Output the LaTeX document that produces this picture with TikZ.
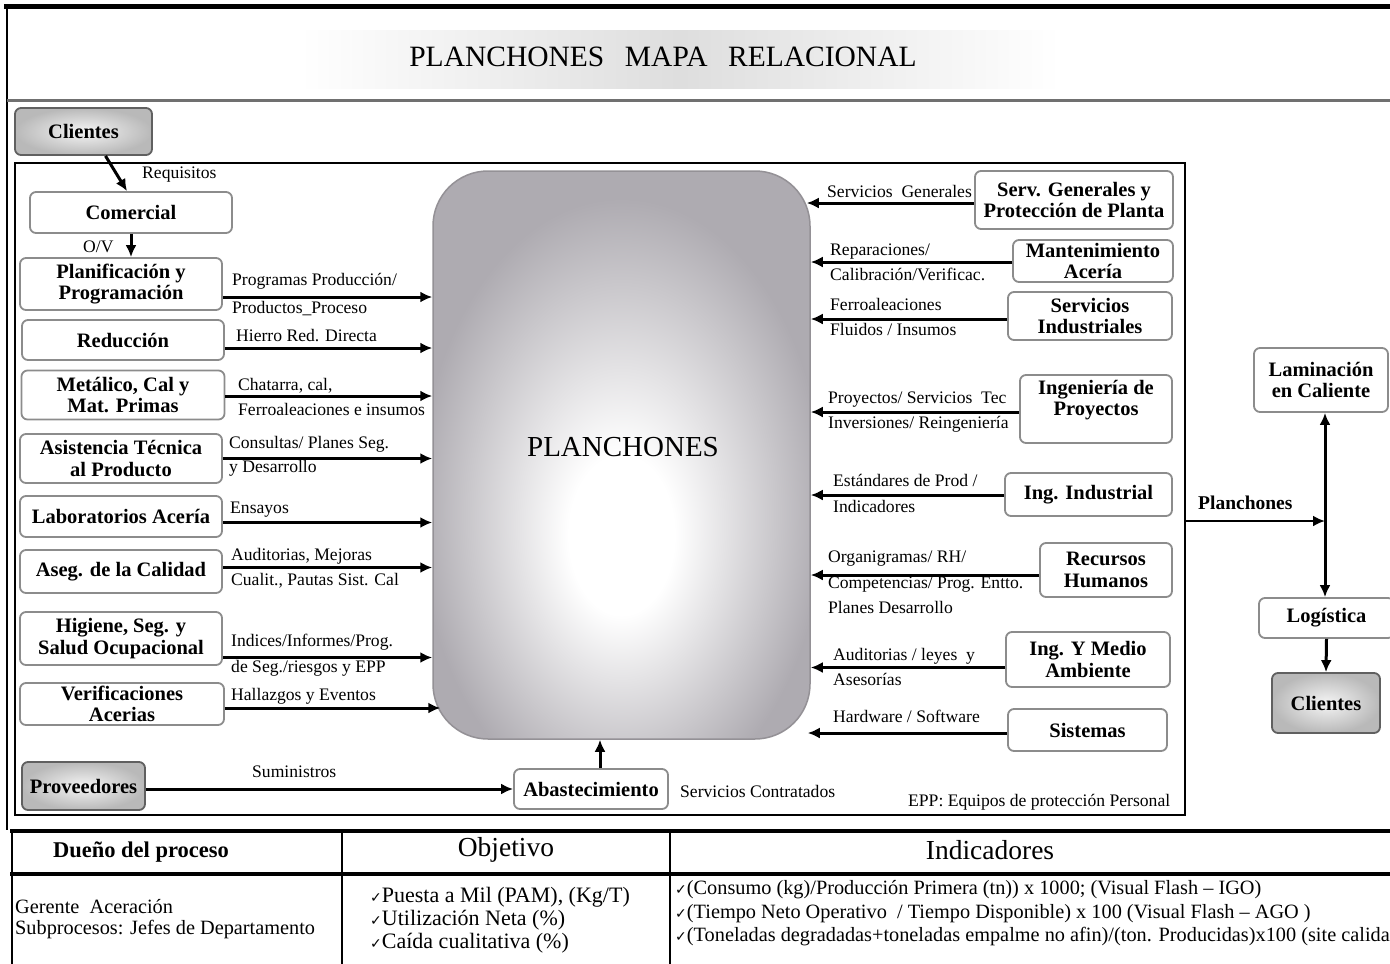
\documentclass[tikz,border=0pt]{standalone}
\usepackage{fontspec}
\setmainfont{Liberation Serif}
\newfontfamily\symfont{DejaVu Sans}
\usetikzlibrary{arrows.meta,calc}

\definecolor{boxgrey}{HTML}{8C8C8C}
\definecolor{plgrey}{HTML}{AEABB1}
\definecolor{rulegrey}{HTML}{707070}

% off-centre radial fill of the central process block
\pgfdeclareradialshading{plshade}{\pgfpoint{0bp}{-8bp}}{color(0bp)=(white); color(7bp)=(white); color(27bp)=(plgrey); color(60bp)=(plgrey)}

\newcommand{\okmark}{{\symfont\fontsize{14}{14}\selectfont ✓}}

\tikzset{
  procbox/.style={draw=boxgrey, line width=1.8pt, rounded corners=6pt, fill=white,
    inner sep=0pt, align=center, font=\bfseries\fontsize{20.5}{21.5}\selectfont},
  endbox/.style={procbox, draw=gray!75!black, shade, inner color=gray!8, outer color=gray!55},
  boxtext/.style={inner sep=0pt, align=center, font=\bfseries\fontsize{20.5}{21.5}\selectfont},
  lbl/.style={inner sep=0pt, anchor=west, font=\fontsize{17.6}{19}\selectfont},
  arr/.style={-{Latex[length=12pt,width=11pt]}, line width=3pt},
  darr/.style={{Latex[length=12pt,width=11pt]}-{Latex[length=12pt,width=11pt]}, line width=3pt},
  hdr/.style={inner sep=0pt, font=\fontsize{27.5}{29}\selectfont},
  cell/.style={inner sep=0pt, anchor=west, font=\fontsize{20.3}{22}\selectfont},
}

\begin{document}
\begin{tikzpicture}[x=1pt,y=-1pt]
\clip (0,0) rectangle (1390,964);
\fill[white] (0,0) rectangle (1390,964);

% ---------- header band ----------
\shade[left color=white, right color=white, middle color=gray!26] (300,30) rectangle (1060,88);
\draw[line width=5pt] (4,6) -- (1390,6);
\draw[line width=1.5pt] (7,4) -- (7,830);
\draw[rulegrey, line width=3pt] (7,100) -- (1390,100);
\node[inner sep=0pt, font=\fontsize{29.5}{31}\selectfont] (title) at (663,57)
  {PLANCHONES\hspace{0.7em}MAPA\hspace{0.7em}RELACIONAL};

% ---------- inner frame ----------
\draw[line width=1.6pt] (15,163) rectangle (1185,815);

% ---------- central block ----------
\node[shading=plshade, shade, draw=plgrey!85!black, line width=1.5pt, rounded corners=55pt,
      minimum width=377pt, minimum height=568pt, inner sep=0pt] (pl) at (621.5,455) {};
\node[inner sep=0pt, font=\fontsize{29}{31}\selectfont] (plt) at (623,447) {PLANCHONES};

% ---------- left column ----------
\node[endbox, minimum width=137pt, minimum height=47pt] (cli1) at (83.5,131.5) {Clientes};
\node[procbox, minimum width=202pt, minimum height=41pt] (com) at (131,212.5) {Comercial};
\node[procbox, minimum width=202pt, minimum height=52pt] (plan) at (121,284) {Planificación y\\Programación};
\node[procbox, minimum width=202pt, minimum height=40pt] (red) at (123,340) {Reducción};
\node[procbox, minimum width=203pt, minimum height=49pt] (met) at (123,395) {Metálico, Cal y\\Mat. Primas};
\node[procbox, minimum width=202pt, minimum height=49pt] (asis) at (121,458.5) {Asistencia Técnica\\al Producto};
\node[procbox, minimum width=202pt, minimum height=41pt] (lab) at (121,516.5) {Laboratorios Acería};
\node[procbox, minimum width=202pt, minimum height=43pt] (aseg) at (121,571.5) {Aseg. de la Calidad};
\node[procbox, minimum width=202pt, minimum height=53pt] (hig) at (121,638.5) {Higiene, Seg. y\\Salud Ocupacional};
\node[procbox, minimum width=204pt, minimum height=42pt] (ver) at (122,704) {Verificaciones\\Acerias};
\node[endbox, minimum width=123pt, minimum height=48pt] (prov) at (83.5,786) {Proveedores};
\node[procbox, minimum width=154pt, minimum height=40pt] (abs) at (591,789) {Abastecimiento};

% ---------- right column ----------
\node[procbox, minimum width=198pt, minimum height=58pt] (sg) at (1074,200) {Serv. Generales y\\Protección de Planta};
\node[procbox, minimum width=160pt, minimum height=42pt] (mant) at (1093,261) {Mantenimiento\\Acería};
\node[procbox, minimum width=164pt, minimum height=48pt] (si) at (1090,316) {Servicios\\Industriales};
\node[procbox, minimum width=152pt, minimum height=68pt] (ip) at (1096,409) {};
\node[boxtext] (ipt) at (1096,400) {Ingeniería de\\Proyectos};
\node[procbox, minimum width=167pt, minimum height=43pt] (ii) at (1088.5,494.5) {Ing. Industrial};
\node[procbox, minimum width=132pt, minimum height=54pt] (rh) at (1106,570) {Recursos\\Humanos};
\node[procbox, minimum width=164pt, minimum height=55pt] (ima) at (1088,659.5) {Ing. Y Medio\\Ambiente};
\node[procbox, minimum width=159pt, minimum height=42pt] (sis) at (1087.5,730) {Sistemas};

% ---------- downstream ----------
\node[procbox, minimum width=134pt, minimum height=64pt] (lam) at (1321,380) {Laminación\\en Caliente};
\node[procbox, minimum width=135pt, minimum height=40pt] (log) at (1326.5,618) {Logística};
\node[endbox, minimum width=108pt, minimum height=60pt] (cli2) at (1326,703) {Clientes};
\coordinate (fr) at (1185,521);
\coordinate (jn) at (1325,521);

% ---------- connectors ----------
\draw[arr] ([xshift=22pt]cli1.south) -- ([xshift=-4pt]com.north);
\draw[arr] (com.south) -- (com.south |- plan.north);

\draw[arr] ([yshift=-13pt]plan.east) -- ([yshift=-13pt]plan.east -| pl.west);
\draw[arr] ([yshift=-8pt]red.east) -- ([yshift=-8pt]red.east -| pl.west);
\draw[arr] ([yshift=-1pt]met.east) -- ([yshift=-1pt]met.east -| pl.west);
\draw[arr] (asis.east) -- (asis.east -| pl.west);
\draw[arr] ([yshift=-6pt]lab.east) -- ([yshift=-6pt]lab.east -| pl.west);
\draw[arr] ([yshift=4pt]aseg.east) -- ([yshift=4pt]aseg.east -| pl.west);
\draw[arr] ([yshift=-19pt]hig.east) -- ([yshift=-19pt]hig.east -| pl.west);
\draw[arr] ([yshift=-4pt]ver.east) -- ([xshift=8pt,yshift=-4pt]ver.east -| pl.west);
\draw[arr] ([yshift=-3pt]prov.east) -- ([yshift=-3pt]prov.east -| abs.west);
\draw[arr] ([xshift=9pt]abs.north) -- ([xshift=9pt]abs.north |- pl.south);

\draw[arr] ([yshift=-3pt]sg.west) -- ([xshift=-4pt,yshift=-3pt]sg.west -| pl.east);
\draw[arr] ([yshift=-1pt]mant.west) -- ([yshift=-1pt]mant.west -| pl.east);
\draw[arr] ([yshift=-3pt]si.west) -- ([yshift=-3pt]si.west -| pl.east);
\draw[arr] ([yshift=-3pt]ip.west) -- ([yshift=-3pt]ip.west -| pl.east);
\draw[arr] ([yshift=-0.5pt]ii.west) -- ([yshift=-0.5pt]ii.west -| pl.east);
\draw[arr] ([yshift=-5pt]rh.west) -- ([yshift=-5pt]rh.west -| pl.east);
\draw[arr] ([yshift=-8pt]ima.west) -- ([yshift=-8pt]ima.west -| pl.east);
\draw[arr] ([yshift=-3pt]sis.west) -- ([xshift=-3pt,yshift=-3pt]sis.west -| pl.east);

\draw[arr, line width=2.5pt] (fr) -- (jn);
\draw[darr] (jn |- lam.south) -- (jn |- log.north);
\draw[arr] (log.south) -- (cli2.north);

% ---------- flow labels ----------
\node[lbl] (lreq) at (142,175) {Requisitos};
\node[lbl] (lov) at (83,247) {O/V};
\node[lbl] (lpl1) at (232,281) {Programas Producción/};
\node[lbl] (lpl2) at (232,309) {Productos\_Proceso};
\node[lbl] (lre1) at (236,336) {Hierro Red. Directa};
\node[lbl] (lme1) at (238,386) {Chatarra, cal,};
\node[lbl] (lme2) at (238,409) {Ferroaleaciones e insumos};
\node[lbl] (las1) at (229,444) {Consultas/ Planes Seg.};
\node[lbl] (las2) at (229,468) {y Desarrollo};
\node[lbl] (lla1) at (230,510) {Ensayos};
\node[lbl] (lag1) at (231,556) {Auditorias, Mejoras};
\node[lbl] (lag2) at (231,581) {Cualit., Pautas Sist. Cal};
\node[lbl] (lhi1) at (231,642) {Indices/Informes/Prog.};
\node[lbl] (lhi2) at (231,668) {de Seg./riesgos y EPP};
\node[lbl] (lve1) at (231,696) {Hallazgos y Eventos};
\node[lbl] (lsum) at (252,772) {Suministros};

\node[lbl] (lsg1) at (827,191) {Servicios\ \ Generales};
\node[lbl] (lma1) at (830,252) {Reparaciones/};
\node[lbl] (lma2) at (830,274) {Calibración/Verificac.};
\node[lbl] (lsi1) at (830,304) {Ferroaleaciones};
\node[lbl] (lsi2) at (830,329) {Fluidos / Insumos};
\node[lbl] (lip1) at (828,400) {Proyectos/ Servicios\ \ Tec};
\node[lbl] (lip2) at (828,424) {Inversiones/ Reingeniería};
\node[lbl] (lii1) at (833,480) {Estándares de Prod /};
\node[lbl] (lii2) at (833,506) {Indicadores};
\node[lbl] (lrh1) at (828,559) {Organigramas/ RH/};
\node[lbl] (lrh2) at (828,585) {Competencias/ Prog. Entto.};
\node[lbl] (lrh3) at (828,607) {Planes Desarrollo};
\node[lbl] (lim1) at (833,656) {Auditorias / leyes\ \ y};
\node[lbl] (lim2) at (833,679) {Asesorías};
\node[lbl] (lsis) at (833,716) {Hardware / Software};
\node[lbl] (lsc) at (680,791) {Servicios Contratados};
\node[lbl] (lepp) at (908,802) {EPP: Equipos de protección Personal};
\node[lbl, font=\bfseries\fontsize{19.5}{21}\selectfont] (lpch) at (1198,503) {Planchones};

% ---------- summary table ----------
\draw[line width=4pt] (10,831) -- (1390,831);
\draw[line width=3.5pt] (10,874) -- (1390,874);
\draw[line width=1.5pt] (12,829) -- (12,964);
\draw[line width=1.2pt] (342,831) -- (342,964);
\draw[line width=1.2pt] (670,831) -- (670,964);

\node[inner sep=0pt, font=\bfseries\fontsize{22.5}{24}\selectfont] (h1) at (141,852) {Dueño del proceso};
\node[hdr] (h2) at (506,850) {Objetivo};
\node[hdr] (h3) at (990,850) {Indicadores};

\node[cell] (c1a) at (15,907) {Gerente\ \ Aceración};
\node[cell] (c1b) at (15,930) {Subprocesos: Jefes de Departamento};
\node[cell, font=\fontsize{22}{24}\selectfont] (c2a) at (370,897) {\okmark Puesta a Mil (PAM), (Kg/T)};
\node[cell, font=\fontsize{22}{24}\selectfont] (c2b) at (370,920) {\okmark Utilización Neta (\%)};
\node[cell, font=\fontsize{22}{24}\selectfont] (c2c) at (370,943) {\okmark Caída cualitativa (\%)};
\node[cell] (c3a) at (675,890) {\okmark(Consumo (kg)/Producción Primera (tn)) x 1000; (Visual Flash – IGO)};
\node[cell] (c3b) at (675,914) {\okmark(Tiempo Neto Operativo\ \ / Tiempo Disponible) x 100 (Visual Flash – AGO )};
\node[cell] (c3c) at (675,937) {\okmark(Toneladas degradadas+toneladas empalme no afin)/(ton. Producidas)x100 (site calidad};
\end{tikzpicture}
\end{document}
